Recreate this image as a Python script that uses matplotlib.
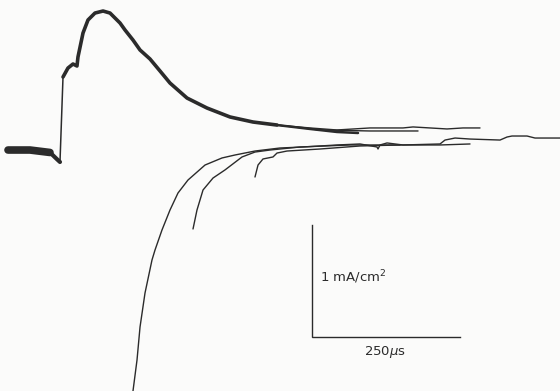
#!/usr/bin/env python3
"""
Current traces with scale bar (1 mA/cm^2, 250 us).
Writes out.png
"""

import matplotlib
matplotlib.use('Agg')
import matplotlib.pyplot as plt

INK = '#2b2b2b'
BG = '#fbfbfa'

plt.rcParams.update({
    'font.family': ['DejaVu Sans'],
    'font.size': 9,
})

# ─── Data: time (us), current (mA/cm^2) ──────────────────────────────────
# outward (upper) traces — common bundle before the pulse
pre_t = [-91.2, -54.1, -20.3]
pre_i = [-0.018, -0.018, -0.040]
pre2_t = [-20.3, -8.5, -3.4]
pre2_i = [-0.040, -0.100, -0.125]

# step at pulse onset
step_t = [-3.4, 1.7]
step_i = [-0.125, 0.634]

# bundle: rise, peak and decay
bundle_t = [1.7, 10.1, 18.6, 25.3, 27.0, 35.5, 43.9, 55.7, 69.3, 81.1,
            98.0, 106.4, 119.9, 131.8, 148.6, 165.5, 182.4, 211.2, 244.9,
            283.8, 322.6, 363.2]
bundle_i = [0.634, 0.714, 0.750, 0.732, 0.813, 1.027, 1.143, 1.205, 1.223,
            1.205, 1.116, 1.054, 0.964, 0.875, 0.795, 0.688, 0.580, 0.446,
            0.357, 0.277, 0.232, 0.205]

# separate tails of the upper traces
tail1_t = [363.2, 418.9, 464.5, 500.0]
tail1_i = [0.205, 0.170, 0.143, 0.134]
tail2_t = [363.2, 435.8, 520.3, 601.4]
tail2_i = [0.205, 0.161, 0.152, 0.152]
tail3_t = [363.2, 418.9, 464.5, 520.3, 576.0, 592.9, 621.6, 650.3, 677.4,
           706.1]
tail3_i = [0.205, 0.179, 0.161, 0.179, 0.179, 0.188, 0.179, 0.170, 0.179,
           0.179]

# inward (lower) traces
a_t = [119.1, 119.9, 126.7, 131.8, 140.2, 152.0, 157.1, 168.9, 182.4, 195.9,
       212.8, 241.6, 270.3, 292.2, 326.0, 368.2, 407.1, 464.5, 503.4, 532.1,
       533.8, 537.2, 549.0, 576.0, 638.5, 647.0, 663.9, 689.2, 739.9, 751.7,
       760.1, 785.5, 799.0, 841.2]
a_i = [-2.25, -2.170, -1.893, -1.598, -1.295, -1.0, -0.911, -0.732, -0.554,
       -0.402, -0.286, -0.152, -0.089, -0.0625, -0.027, 0.0, 0.009, 0.027,
       0.036, 0.009, -0.009, 0.027, 0.045, 0.027, 0.036, 0.071, 0.089, 0.080,
       0.071, 0.098, 0.107, 0.107, 0.089, 0.089]

b_t = [221.3, 228.0, 238.2, 255.1, 275.3, 304.1, 326.0, 351.4, 402.0, 486.5,
       570.9, 638.5, 689.2]
b_i = [-0.723, -0.554, -0.375, -0.268, -0.196, -0.080, -0.036, -0.018,
       0.009, 0.027, 0.027, 0.027, 0.036]

c_t = [326.0, 331.1, 339.5, 356.4, 363.2, 380.1, 435.8, 503.4, 570.9]
c_i = [-0.259, -0.152, -0.098, -0.080, -0.045, -0.027, -0.009, 0.018, 0.027]

# scale bar
BAR_T0 = 422.3
BAR_I0 = -1.6875
BAR_DT = 250
BAR_DI = 1.0

fig = plt.figure(figsize=(5.6, 3.91), dpi=100)
fig.patch.set_facecolor(BG)
ax = fig.add_axes([0, 0, 1, 1])
ax.set_facecolor(BG)

kw = dict(color=INK, solid_capstyle='round', solid_joinstyle='round')
ax.plot(pre_t, pre_i, lw=5.5, **kw)
ax.plot(pre2_t, pre2_i, lw=3.0, **kw)
ax.plot(step_t, step_i, lw=1.1, **kw)
ax.plot(bundle_t, bundle_i, lw=2.6, **kw)
ax.plot(tail1_t, tail1_i, lw=1.8, **kw)
ax.plot(tail2_t, tail2_i, lw=1.0, **kw)
ax.plot(tail3_t, tail3_i, lw=1.0, **kw)
ax.plot(a_t, a_i, lw=1.0, **kw)
ax.plot(b_t, b_i, lw=1.0, **kw)
ax.plot(c_t, c_i, lw=1.0, **kw)

# scale bar
ax.plot([BAR_T0, BAR_T0, BAR_T0 + BAR_DT],
        [BAR_I0 + BAR_DI, BAR_I0, BAR_I0], lw=1.0, color=INK,
        solid_joinstyle='miter')
ax.text(BAR_T0 + 13.5, BAR_I0 + 0.535, '1 mA/cm$^2$', ha='left',
        va='center', fontsize=9.5, color=INK)
ax.text(BAR_T0 + 123, BAR_I0 - 0.135, '250$\\mu$s', ha='center',
        va='center', fontsize=9.5, color=INK)

ax.set_xlim(-104.73, 841.2)
ax.set_ylim(-2.1696, 1.3214)
ax.axis('off')

fig.savefig('out.png', dpi=100, facecolor=BG)
